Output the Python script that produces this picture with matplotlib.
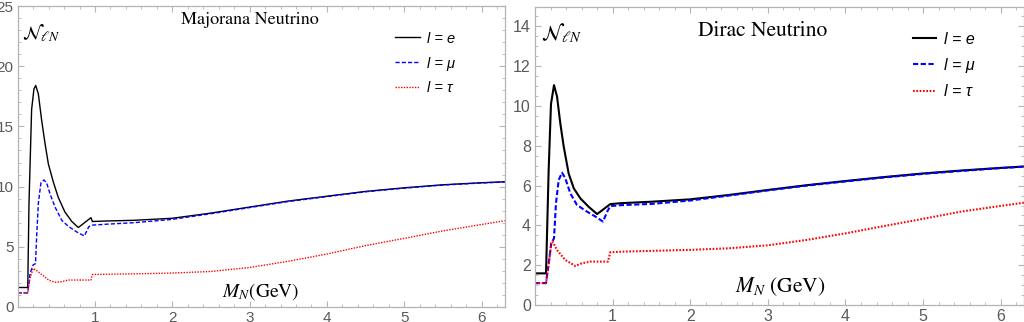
import matplotlib
matplotlib.use("Agg")
import matplotlib.pyplot as plt
from matplotlib.ticker import MultipleLocator

plt.rcParams['mathtext.fontset'] = 'stix'

# ---------------- data: Majorana ----------------
maj_e_x = [0, 0.13, 0.146, 0.18, 0.21, 0.233, 0.267, 0.31, 0.353, 0.396, 0.46, 0.525, 0.61, 0.655,
           0.70, 0.784, 0.948, 0.966, 1.13, 1.5, 2.0, 2.5, 3.0, 3.5, 4.0, 4.5, 5.0, 5.5, 6.0, 6.3]
maj_e_y = [1.62, 1.62, 8.6, 16.4, 18.1, 18.4, 17.7, 15.5, 13.6, 11.9, 10.4, 9.1, 7.9, 7.5,
           7.1, 6.6, 7.42, 7.1, 7.14, 7.2, 7.37, 7.8, 8.3, 8.8, 9.2, 9.6, 9.9, 10.15, 10.32, 10.4]

maj_mu_x = [0, 0.13, 0.16, 0.20, 0.23, 0.245, 0.267, 0.30, 0.34, 0.375, 0.418, 0.483, 0.57, 0.655,
            0.76, 0.862, 0.92, 0.966, 1.13, 1.5, 2.0, 2.5, 3.0, 3.5, 4.0, 4.5, 5.0, 5.5, 6.0, 6.3]
maj_mu_y = [1.17, 1.17, 2.8, 3.5, 3.6, 5.8, 8.6, 10.3, 10.55, 10.3, 9.4, 8.3, 7.2, 6.7,
            6.25, 5.9, 6.67, 6.8, 6.87, 7.0, 7.28, 7.75, 8.26, 8.76, 9.17, 9.57, 9.87, 10.13, 10.3, 10.38]

maj_tau_x = [0, 0.13, 0.16, 0.20, 0.23, 0.29, 0.40, 0.48, 0.57, 0.655, 0.948, 0.966, 1.13, 1.5,
             2.0, 2.5, 3.0, 3.5, 4.0, 4.5, 5.0, 5.5, 6.0, 6.3]
maj_tau_y = [1.17, 1.17, 2.4, 3.2, 3.1, 2.8, 2.24, 2.05, 2.1, 2.24, 2.24, 2.7, 2.72, 2.75,
             2.82, 2.95, 3.28, 3.8, 4.4, 5.1, 5.7, 6.32, 6.85, 7.17]

# ---------------- data: Dirac ----------------
dir_e_x = [0, 0.142, 0.176, 0.206, 0.245, 0.284, 0.326, 0.37, 0.434, 0.50, 0.584, 0.69, 0.80,
           0.97, 1.12, 1.5, 2.0, 2.5, 3.0, 3.5, 4.0, 4.5, 5.0, 5.5, 6.0, 6.3]
dir_e_y = [1.59, 1.59, 6.8, 10.1, 11.05, 10.47, 9.13, 7.96, 6.6, 5.86, 5.36, 4.94, 4.57,
           5.07, 5.12, 5.19, 5.31, 5.53, 5.78, 6.02, 6.23, 6.43, 6.61, 6.76, 6.89, 6.96]

dir_mu_x = [0, 0.142, 0.176, 0.21, 0.245, 0.27, 0.305, 0.348, 0.39, 0.455, 0.54, 0.65, 0.78,
            0.876, 0.93, 0.97, 1.12, 1.5, 2.0, 2.5, 3.0, 3.5, 4.0, 4.5, 5.0, 5.5, 6.0, 6.3]
dir_mu_y = [1.1, 1.1, 2.1, 3.1, 3.35, 5.1, 6.28, 6.65, 6.37, 5.61, 5.03, 4.74, 4.44,
            4.19, 4.69, 4.97, 5.02, 5.08, 5.25, 5.5, 5.76, 6.0, 6.21, 6.41, 6.59, 6.74, 6.88, 6.95]

dir_tau_x = [0, 0.142, 0.176, 0.21, 0.225, 0.284, 0.39, 0.52, 0.60, 0.71, 0.94, 0.97, 1.12, 1.5,
             2.0, 2.5, 3.0, 3.5, 4.0, 4.5, 5.0, 5.5, 6.0, 6.3]
dir_tau_y = [1.1, 1.1, 2.0, 3.1, 3.2, 2.76, 2.26, 1.96, 2.09, 2.18, 2.18, 2.65, 2.68, 2.72,
             2.77, 2.85, 3.0, 3.27, 3.6, 3.97, 4.33, 4.7, 4.98, 5.14]

labels = ["l = e", "l = \u03bc", "l = \u03c4"]
xticks = [1, 2, 3, 4, 5, 6]
maj_yticks = [0, 5, 10, 15, 20, 25]
dir_yticks = [0, 2, 4, 6, 8, 10, 12, 14]

W, H = 1024, 322
fig = plt.figure(figsize=(W / 100, H / 100), dpi=100)

def frac(x0, y0, x1, y1):
    return [x0 / W, 1 - y1 / H, (x1 - x0) / W, (y1 - y0) / H]

ax1 = fig.add_axes(frac(17.7, 6, 504.7, 307))
ax2 = fig.add_axes(frac(535, 6.5, 1024, 305))

frame_c = '#b4b4b4'
tick_lab_c = '#5a5a5a'

def style(ax, yticks, ymax, yminor, fs):
    ax.set_xlim(0, 6.3)
    ax.set_ylim(0, ymax)
    ax.set_xticks(xticks)
    ax.set_yticks(yticks)
    ax.xaxis.set_minor_locator(MultipleLocator(0.2))
    ax.yaxis.set_minor_locator(MultipleLocator(yminor))
    for s in ax.spines.values():
        s.set_color(frame_c)
        s.set_linewidth(0.9)
    ax.tick_params(which='both', direction='in', top=True, right=True, color=frame_c,
                   labelcolor=tick_lab_c, labelsize=fs, pad=3)
    ax.tick_params(which='major', length=4.5, width=0.8)
    ax.tick_params(which='minor', length=2.5, width=0.6)
    for lab in ax.get_xticklabels() + ax.get_yticklabels():
        lab.set_fontfamily('Liberation Sans')

# Majorana panel
lw1 = 1.0
ax1.plot(maj_e_x, maj_e_y, color='black', lw=lw1, label=labels[0])
ax1.plot(maj_mu_x, maj_mu_y, color='#0000ff', lw=lw1, ls=(0, (3, 1.5)), label=labels[1])
ax1.plot(maj_tau_x, maj_tau_y, color='#ff0000', lw=lw1, ls=(0, (1, 1)), label=labels[2])
style(ax1, maj_yticks, 25, 1, 11)
ax1.legend(loc='upper left', bbox_to_anchor=(0.775, 0.915), frameon=False,
           prop={'family': 'Liberation Sans', 'style': 'italic', 'size': 10.5},
           handlelength=1.7, handletextpad=0.5, labelspacing=0.75, borderpad=0,
           borderaxespad=0)

# Dirac panel
lw2 = 1.5
ax2.plot(dir_e_x, dir_e_y, color='black', lw=lw2, label=labels[0])
ax2.plot(dir_mu_x, dir_mu_y, color='#0000ff', lw=lw2, ls=(0, (2.5, 1.2)), label=labels[1])
ax2.plot(dir_tau_x, dir_tau_y, color='#ff0000', lw=lw2, ls=(0, (0.8, 0.8)), label=labels[2])
style(ax2, dir_yticks, 15, 0.5, 11.5)
ax2.legend(loc='upper left', bbox_to_anchor=(0.772, 0.915), frameon=False,
           prop={'family': 'Liberation Sans', 'style': 'italic', 'size': 11.5},
           handlelength=1.5, handletextpad=0.5, labelspacing=0.7, borderpad=0,
           borderaxespad=0)

# annotations
serif = 'STIXGeneral'
fig.text(250 / W, 1 - 20 / H, 'Majorana Neutrino', ha='center', va='center',
         fontfamily=serif, fontsize=13)
fig.text(763 / W, 1 - 31 / H, 'Dirac Neutrino', ha='center', va='center',
         fontfamily=serif, fontsize=15.5)
fig.text(22 / W, 1 - 39 / H, r'$\mathcal{N}_{\ell N}$', ha='left', va='baseline',
         fontsize=14)
fig.text(541 / W, 1 - 40 / H, r'$\mathcal{N}_{\ell N}$', ha='left', va='baseline',
         fontsize=15)
fig.text(222 / W, 1 - 297 / H, r'$M_N$(GeV)', ha='left', va='baseline',
         fontfamily=serif, fontsize=14)
fig.text(735 / W, 1 - 292 / H, r'$M_N$ (GeV)', ha='left', va='baseline',
         fontfamily=serif, fontsize=15.5)

fig.savefig('out.png', dpi=100)
